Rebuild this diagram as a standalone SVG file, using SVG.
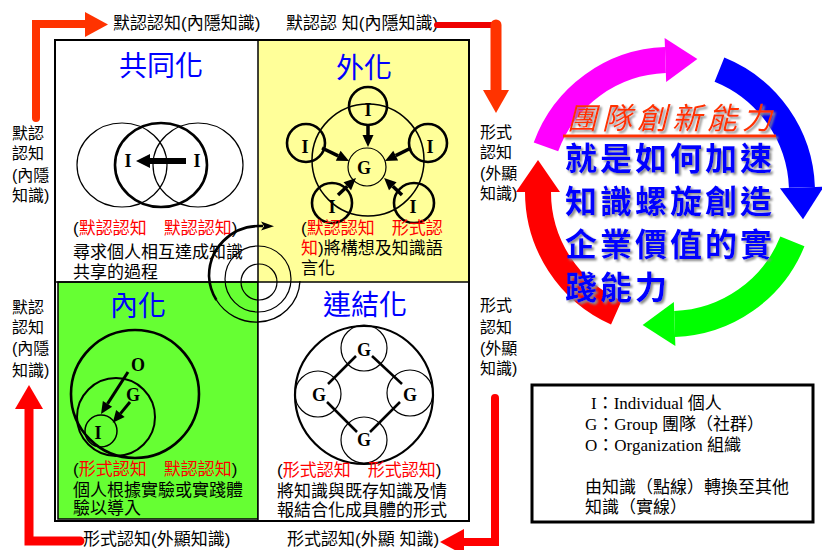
<svg xmlns="http://www.w3.org/2000/svg" width="822" height="550" viewBox="0 0 822 550">
<style>
  text { font-family: "Liberation Sans", "Noto Sans CJK TC", sans-serif; fill: #000; }
  .t { font-size: 17px; }
  .side { font-size: 16px; }
  .r { fill: #FF0000; }
  .title { font-size: 28px; fill: #0000FF; text-anchor: middle; }
  .lbl { font-family: "Liberation Serif", "Times New Roman", serif; font-weight: bold; font-size: 18px; text-anchor: middle; }
  .thin { fill: none; stroke: #000; stroke-width: 1.2; }
  .mid { fill: none; stroke: #000; stroke-width: 2; }
  .thick { fill: none; stroke: #000; stroke-width: 2.6; }
  .bar { fill: none; stroke: #000; stroke-width: 3.5; }
  .leg { font-family: "Liberation Serif", "Noto Sans CJK TC", serif; font-size: 17px; }
  .ring { fill: none; stroke-width: 26; }
  .slogan { font-size: 32px; font-weight: bold; fill: #0000FF; letter-spacing: 3px; }
  .flow { fill: none; stroke-linecap: round; stroke-linejoin: miter; }
</style>
<defs>
  <marker id="bk" markerUnits="userSpaceOnUse" markerWidth="14" markerHeight="12" refX="0" refY="0" orient="auto" overflow="visible">
    <path d="M0,-5.5 L12,0 L0,5.5 z" fill="#000"/>
  </marker>
  <marker id="hm" markerUnits="userSpaceOnUse" markerWidth="34" markerHeight="46" refX="0" refY="0" orient="auto" overflow="visible">
    <path d="M0,-22 L32,0 L0,22 z" fill="#FF00FF"/>
  </marker>
  <marker id="hb" markerUnits="userSpaceOnUse" markerWidth="34" markerHeight="46" refX="0" refY="0" orient="auto" overflow="visible">
    <path d="M0,-22 L32,0 L0,22 z" fill="#0000FF"/>
  </marker>
  <marker id="hg" markerUnits="userSpaceOnUse" markerWidth="34" markerHeight="46" refX="0" refY="0" orient="auto" overflow="visible">
    <path d="M0,-22 L32,0 L0,22 z" fill="#00FF00"/>
  </marker>
  <marker id="hr" markerUnits="userSpaceOnUse" markerWidth="34" markerHeight="46" refX="0" refY="0" orient="auto" overflow="visible">
    <path d="M0,-22 L32,0 L0,22 z" fill="#FF0000"/>
  </marker>
  <filter id="shade" x="-10%" y="-20%" width="130%" height="150%">
    <feDropShadow dx="2" dy="2" stdDeviation="0.8" flood-color="#8a8a8a"/>
  </filter>
</defs>

<rect x="0" y="0" width="822" height="550" fill="#fff"/>

<!-- SECI quadrants -->
<g id="socialization">
  <rect x="55" y="40" width="203" height="242" fill="#fff"/>
  <text class="title" x="161" y="76">共同化</text>
  <ellipse class="thin" cx="122" cy="165" rx="45" ry="42"/>
  <ellipse class="thin" cx="198" cy="165" rx="45" ry="42"/>
  <ellipse class="thick" cx="161" cy="165" rx="46" ry="42"/>
  <text class="lbl" x="128" y="167">I</text>
  <text class="lbl" x="197" y="167">I</text>
  <line x1="186" y1="161" x2="148" y2="161" stroke="#000" stroke-width="6"/>
  <polygon points="150,154 150,168 136,161" fill="#000"/>
  <text class="t" x="73" y="234">(<tspan class="r">默認認知　默認認知</tspan>)</text>
  <text class="t" x="73" y="258">尋求個人相互達成知識</text>
  <text class="t" x="73" y="278">共享的過程</text>
</g>

<g id="externalization">
  <rect x="258" y="40" width="211" height="242" fill="#FFFF99"/>
  <text class="title" x="364" y="78">外化</text>
  <circle cx="368" cy="160" r="56" fill="none" stroke="#000" stroke-width="1.5"/>
  <circle class="thin" cx="367" cy="167" r="19"/>
  <circle class="thick" cx="368" cy="106" r="19"/>
  <circle class="thick" cx="306" cy="143" r="19"/>
  <circle class="thick" cx="428" cy="143" r="19"/>
  <circle class="thick" cx="332" cy="203" r="20"/>
  <circle class="thick" cx="414" cy="203" r="20"/>
  <text class="lbl" x="368" y="116">I</text>
  <text class="lbl" x="305" y="153">I</text>
  <text class="lbl" x="430" y="153">I</text>
  <text class="lbl" x="332" y="213">I</text>
  <text class="lbl" x="413" y="213">I</text>
  <text class="lbl" x="364" y="174">G</text>
  <line class="bar" x1="368" y1="124" x2="368" y2="135" marker-end="url(#bk)"/>
  <line class="bar" x1="322" y1="148" x2="338.2" y2="155.8" marker-end="url(#bk)"/>
  <line class="bar" x1="411" y1="148" x2="395.7" y2="155.6" marker-end="url(#bk)"/>
  <line class="bar" x1="338" y1="195" x2="347.3" y2="186.2" marker-end="url(#bk)"/>
  <line class="bar" x1="402" y1="195" x2="392.8" y2="186.2" marker-end="url(#bk)"/>
  <text class="t" x="301" y="234">(<tspan class="r">默認認知　形式認</tspan></text>
  <text class="t" x="301" y="254"><tspan class="r">知</tspan>)將構想及知識語</text>
  <text class="t" x="301" y="274">言化</text>
</g>

<g id="internalization">
  <rect x="58" y="282" width="200" height="237" fill="#66FF33" stroke="#000" stroke-width="1.5"/>
  <text class="title" x="138" y="316">內化</text>
  <circle class="thick" cx="135" cy="394" r="64"/>
  <circle class="mid" cx="116" cy="417" r="39"/>
  <circle cx="101" cy="431" r="16" fill="none" stroke="#000" stroke-width="1.5"/>
  <text class="lbl" x="138" y="371">O</text>
  <text class="lbl" x="133" y="401">G</text>
  <text class="lbl" x="98" y="439">I</text>
  <line x1="128" y1="372" x2="107.5" y2="403.9" stroke="#000" stroke-width="3" marker-end="url(#bk)"/>
  <line x1="130" y1="402" x2="120.4" y2="413.6" stroke="#000" stroke-width="3" marker-end="url(#bk)"/>
  <text class="t" x="73" y="475">(<tspan class="r">形式認知　默認認知</tspan>)</text>
  <text class="t" x="73" y="496">個人根據實驗或實踐體</text>
  <text class="t" x="73" y="514">驗以導入</text>
</g>

<g id="combination">
  <rect x="258" y="282" width="211" height="239" fill="#fff"/>
  <text class="title" x="365" y="315">連結化</text>
  <circle cx="364" cy="395" r="69" fill="none" stroke="#000" stroke-width="2.2"/>
  <circle class="thin" cx="364" cy="348" r="23"/>
  <circle class="thin" cx="318" cy="394" r="23"/>
  <circle class="thin" cx="410" cy="393" r="23"/>
  <circle class="thin" cx="364" cy="440" r="23"/>
  <line x1="356" y1="356" x2="328" y2="384" stroke="#000" stroke-width="2.5"/>
  <line x1="372" y1="356" x2="402" y2="384" stroke="#000" stroke-width="2.5"/>
  <line x1="327" y1="402" x2="357" y2="432" stroke="#000" stroke-width="2.5"/>
  <line x1="400" y1="402" x2="370" y2="432" stroke="#000" stroke-width="2.5"/>
  <text class="lbl" x="364" y="356">G</text>
  <text class="lbl" x="319" y="401">G</text>
  <text class="lbl" x="410" y="401">G</text>
  <text class="lbl" x="364" y="446">G</text>
  <text class="t" x="277" y="476">(<tspan class="r">形式認知　形式認知</tspan>)</text>
  <text class="t" x="277" y="497">將知識與既存知識及情</text>
  <text class="t" x="277" y="516">報結合化成具體的形式</text>
</g>

<!-- frame and dividers -->
<g id="frame" fill="none" stroke="#000">
  <rect x="55" y="40" width="414" height="481" stroke-width="2"/>
  <line x1="258" y1="40" x2="258" y2="521" stroke-width="1.5"/>
  <line x1="55" y1="282" x2="469" y2="282" stroke-width="1.5"/>
</g>

<!-- knowledge spiral at the centre -->
<g id="spiral" fill="none" stroke="#000">
  <circle cx="259" cy="282" r="18" stroke-width="1.2"/>
  <circle cx="258" cy="279" r="33" stroke-width="1.2"/>
  <path d="M300 281 A43 43 0 0 1 258 322 A47 47 0 0 1 216.4 300" stroke-width="1.3"/>
  <path d="M216.4 300 A48.5 48.5 0 0 1 209 276 A50 50 0 0 1 258 226 L263 226" stroke-width="2.6"/>
  <path d="M261 221.5 L274 226.2 L261 230.5 L264 226.2 z" fill="#000" stroke="none"/>
</g>

<!-- axis labels -->
<g id="axis-labels" class="side">
  <text class="t" x="113" y="29">默認認知(內隱知識)</text>
  <text class="t" x="286" y="29">默認認 知(內隱知識)</text>
  <text class="t" x="83" y="545">形式認知(外顯知識)</text>
  <text class="t" x="287" y="545">形式認知(外顯 知識)</text>
  <text class="side" x="12" y="139">默認</text>
  <text class="side" x="12" y="159">認知</text>
  <text class="side" x="12" y="181">(內隱</text>
  <text class="side" x="12" y="201">知識)</text>
  <text class="side" x="12" y="313">默認</text>
  <text class="side" x="12" y="333">認知</text>
  <text class="side" x="12" y="354">(內隱</text>
  <text class="side" x="12" y="376">知識)</text>
  <text class="side" x="480" y="138">形式</text>
  <text class="side" x="480" y="158">認知</text>
  <text class="side" x="480" y="179">(外顯</text>
  <text class="side" x="480" y="199">知識)</text>
  <text class="side" x="480" y="311">形式</text>
  <text class="side" x="480" y="333">認知</text>
  <text class="side" x="480" y="354">(外顯</text>
  <text class="side" x="480" y="374">知識)</text>
</g>

<!-- conversion flow arrows around the matrix -->
<g id="connectors">
  <path class="flow" d="M36 118 L36 24 L87 24" stroke="#FF3300" stroke-width="8"/>
  <polygon points="85,12 108,24.5 85,37" fill="#FF3300"/>

  <path class="flow" d="M437 25 L496 25" stroke="#EE0000" stroke-width="6"/>
  <path class="flow" d="M496 25 L496 92" stroke="#FF3300" stroke-width="11" stroke-linecap="butt"/>
  <polygon points="483,90 509,90 496,113" fill="#FF3300"/>

  <path class="flow" d="M29 408 L29 541 L80 541" stroke="#FF0000" stroke-width="9"/>
  <polygon points="15,409 43,409 29,385" fill="#FF0000"/>

  <path class="flow" d="M495 398 L495 542 L462 542" stroke="#FF0000" stroke-width="8"/>
  <polygon points="464,529 464,555 440,542" fill="#FF0000"/>
</g>

<!-- four-colour innovation cycle -->
<g id="innovation-cycle">
  <path class="ring" d="M545.96 146.86 A132 132 0 0 1 665.39 60.08" stroke="#FF00FF" marker-end="url(#hm)"/>
  <path class="ring" d="M719.45 69.61 A132 132 0 0 1 801.92 187.39" stroke="#0000FF" marker-end="url(#hb)"/>
  <path class="ring" d="M792.39 241.45 A132 132 0 0 1 674.61 323.92" stroke="#00FF00" marker-end="url(#hg)"/>
  <path class="ring" d="M616.31 312.58 A132 132 0 0 1 538 192" stroke="#FF0000" marker-end="url(#hr)"/>
</g>

<g id="team-innovation" filter="url(#shade)">
  <text x="567" y="129" font-size="30" font-style="italic" letter-spacing="5" style="fill:#FF3300">團隊創新能力</text>
  <rect x="563" y="134.5" width="213" height="3" fill="#FF3300"/>
  <text class="slogan" x="565" y="170">就是如何加速</text>
  <text class="slogan" x="565" y="213">知識螺旋創造</text>
  <text class="slogan" x="565" y="256">企業價值的實</text>
  <text class="slogan" x="565" y="299">踐能力</text>
</g>

<!-- legend -->
<g id="legend">
  <rect x="532" y="385" width="281" height="137" fill="#fff" stroke="#000" stroke-width="3"/>
  <text class="leg" x="591" y="409">I：Individual 個人</text>
  <text class="leg" x="585" y="430">G：Group 團隊（社群）</text>
  <text class="leg" x="585" y="451">O：Organization 組織</text>
  <text class="leg" x="585" y="493">由知識（點線）轉換至其他</text>
  <text class="leg" x="585" y="513">知識（實線）</text>
</g>
</svg>
